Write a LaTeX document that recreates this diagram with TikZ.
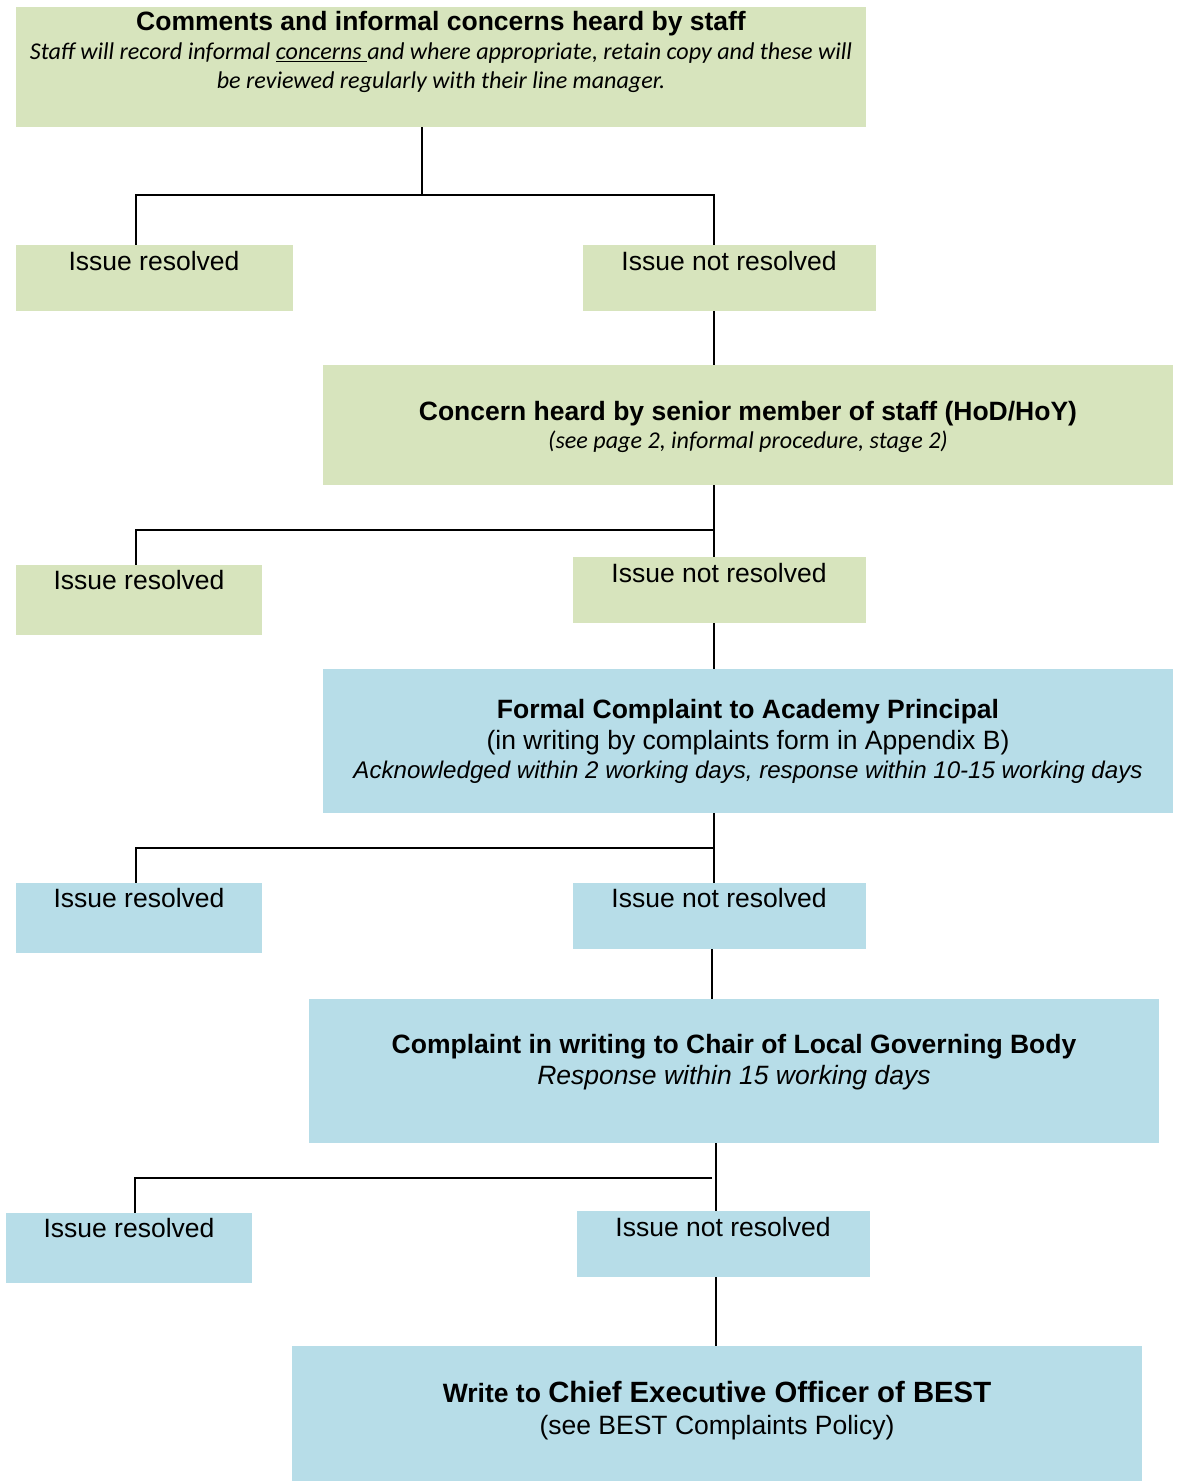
\documentclass[tikz,border=0pt]{standalone}
\usepackage{fontspec}
\setmainfont{Liberation Sans}
\newfontfamily\carlitofont{Carlito}
\definecolor{boxgreen}{RGB}{215,228,189}
\definecolor{boxblue}{RGB}{183,221,232}
\tikzset{
  gbox/.style={fill=boxgreen, draw=none, anchor=north west, inner sep=0pt},
  bbox/.style={fill=boxblue, draw=none, anchor=north west, inner sep=0pt},
  txt/.style={anchor=base, inner sep=0pt},
  conn/.style={draw=black, line width=1.5pt},
}
\newcommand{\fsA}{\fontsize{26.5}{30}\selectfont}
\newcommand{\fsC}{\fontsize{24.1}{28}\selectfont}
\begin{document}
\begin{tikzpicture}[x=1pt,y=-1pt]
\useasboundingbox (0,0) rectangle (1180,1482);
% boxes
\node[gbox, minimum width=850, minimum height=120] (top) at (16,7) {};
\node[gbox, minimum width=277, minimum height=66] (ir1) at (16,245) {};
\node[gbox, minimum width=293, minimum height=66] (inr1) at (583,245) {};
\node[gbox, minimum width=850, minimum height=120] (senior) at (323,365) {};
\node[gbox, minimum width=246, minimum height=70] (ir2) at (16,565) {};
\node[gbox, minimum width=293, minimum height=66] (inr2) at (573,557) {};
\node[bbox, minimum width=850, minimum height=144] (formal) at (323,669) {};
\node[bbox, minimum width=246, minimum height=70] (ir3) at (16,883) {};
\node[bbox, minimum width=293, minimum height=66] (inr3) at (573,883) {};
\node[bbox, minimum width=850, minimum height=144] (chair) at (309,999) {};
\node[bbox, minimum width=246, minimum height=70] (ir4) at (6,1213) {};
\node[bbox, minimum width=293, minimum height=66] (inr4) at (577,1211) {};
\node[bbox, minimum width=850, minimum height=135] (ceo) at (292,1346) {};
% texts
\node[txt] (t1) at (441,31) {\fsA\bfseries Comments and informal concerns heard by staff};
\node[txt] (t2) at (441,60) {\carlitofont\fsC\itshape Staff will record informal \underline{concerns\ }and where appropriate, retain copy and these will};
\node[txt] (t3) at (441,89) {\carlitofont\fsC\itshape be reviewed regularly with their line manager.};
\node[txt] (tir1) at (154,270) {\fsA Issue resolved};
\node[txt] (tinr1) at (729,270) {\fsA Issue not resolved};
\node[txt] (ts1) at (748,420) {\fsA\bfseries Concern heard by senior member of staff (HoD/HoY)};
\node[txt] (ts2) at (748,448) {\carlitofont\fsC\itshape (see page 2, informal procedure, stage 2)};
\node[txt] (tir2) at (139,589) {\fsA Issue resolved};
\node[txt] (tinr2) at (719,582) {\fsA Issue not resolved};
\node[txt] (tf1) at (748,718) {\fsA\bfseries Formal Complaint to Academy Principal};
\node[txt] (tf2) at (748,749) {\fsA (in writing by complaints form in Appendix B)};
\node[txt] (tf3) at (748,778) {\fontsize{24.1}{30}\selectfont\itshape Acknowledged within 2 working days, response within 10-15 working days};
\node[txt] (tir3) at (139,907) {\fsA Issue resolved};
\node[txt] (tinr3) at (719,907) {\fsA Issue not resolved};
\node[txt] (tc1) at (734,1053) {\fsA\bfseries Complaint in writing to Chair of Local Governing Body};
\node[txt] (tc2) at (734,1084) {\fsA\itshape Response within 15 working days};
\node[txt] (tir4) at (129,1237) {\fsA Issue resolved};
\node[txt] (tinr4) at (723,1236) {\fsA Issue not resolved};
\node[txt] (te1) at (717,1402) {\bfseries\fsA Write to \fontsize{29.3}{33}\selectfont Chief Executive Officer of BEST};
\node[txt] (te2) at (717,1434) {\fsA (see BEST Complaints Policy)};
% connectors
\draw[conn] (top.south -| 422,0) -- (422,195) -| (ir1.north -| 136,0);
\draw[conn] (422,195) -| (inr1.north -| 714,0);
\draw[conn] (inr1.south -| 714,0) -- (senior.north -| 714,0);
\draw[conn] (senior.south -| 714,0) -- (inr2.north -| 714,0);
\draw[conn] (714,530) -| (ir2.north -| 136,0);
\draw[conn] (inr2.south -| 714,0) -- (formal.north -| 714,0);
\draw[conn] (formal.south -| 714,0) -- (inr3.north -| 714,0);
\draw[conn] (714,848) -| (ir3.north -| 136,0);
\draw[conn] (inr3.south -| 712,0) -- (chair.north -| 712,0);
\draw[conn] (chair.south -| 716,0) -- (inr4.north -| 716,0);
\draw[conn] (712,1178) -| (ir4.north -| 135,0);
\draw[conn] (inr4.south -| 716,0) -- (ceo.north -| 716,0);
\end{tikzpicture}
\end{document}
